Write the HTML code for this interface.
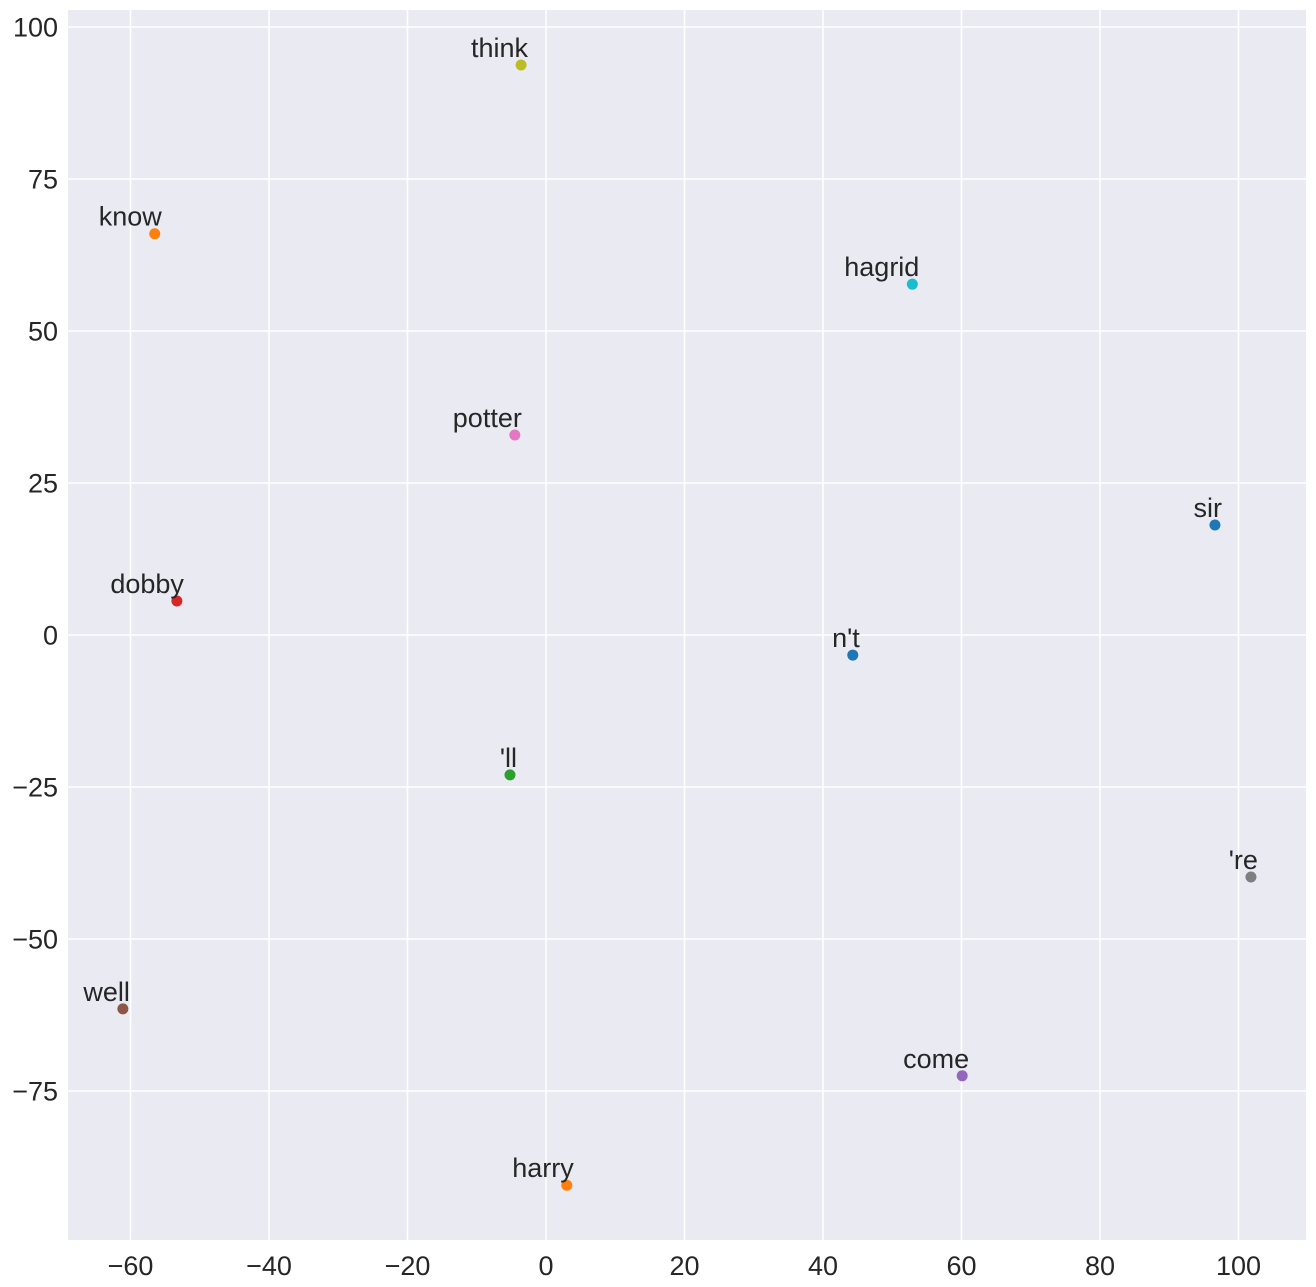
<!DOCTYPE html>
<html><head><meta charset="utf-8"><style>
body{margin:0;background:#fff}
svg{display:block;font-family:"Liberation Sans",Arial,sans-serif}
</style></head><body>
<svg id="chart" width="1316" height="1287" xmlns="http://www.w3.org/2000/svg">
<rect x="68" y="10" width="1238" height="1230" fill="#eaeaf2"/>
<g id="grid"></g>
<g id="ticks"></g>
<g id="points"></g>
</svg>
<script>
const words=["think","know","hagrid","potter","sir","dobby","n't","'ll","'re","well","come","harry"];
const xs=[-3.6,-56.5,52.9,-4.5,96.6,-53.3,44.3,-5.2,101.8,-61.1,60.1,3.0];
const ys=[93.75,66.0,57.7,32.9,18.1,5.6,-3.3,-23.0,-39.8,-61.5,-72.5,-90.5];
const colors=["#bcbd22","#ff7f0e","#17becf","#e377c2","#1f77b4","#d62728","#1f77b4","#2ca02c","#7f7f7f","#8c564b","#9467bd","#ff7f0e"];
const xTicks=[-60,-40,-20,0,20,40,60,80,100];
const yTicks=[100,75,50,25,0,-25,-50,-75];
const L=68,R=1306,T=10,B=1240;
function sx(v){return 546+v*6.925;}
function sy(v){return 635-v*6.08;}
const NS="http://www.w3.org/2000/svg";
function mk(tag,attrs,parent){const e=document.createElementNS(NS,tag);for(const k in attrs)e.setAttribute(k,attrs[k]);parent.appendChild(e);return e;}
const grid=document.getElementById('grid'),ticks=document.getElementById('ticks'),pts=document.getElementById('points');
xTicks.forEach(t=>{
 const l=mk('line',{x1:sx(t),x2:sx(t),y1:T,y2:B,stroke:"#fff","stroke-width":1.5},grid);
 
 
 const tx=mk('text',{x:sx(t),y:1275,"text-anchor":"middle","font-size":27,fill:"#262626"},ticks);
 tx.textContent=t<0?"\u2212"+(-t):String(t);
 
 
});
yTicks.forEach(t=>{
 const l=mk('line',{x1:L,x2:R,y1:sy(t),y2:sy(t),stroke:"#fff","stroke-width":1.5},grid);
 
 
 const tx=mk('text',{x:58,y:sy(t)+9.5,"text-anchor":"end","font-size":27,fill:"#262626"},ticks);
 tx.textContent=t<0?"\u2212"+(-t):String(t);
 
 
});
words.forEach((w,i)=>{
 const c=mk('circle',{cx:sx(xs[i]),cy:sy(ys[i]),r:5.5,fill:colors[i]},pts);
 
 
 const tx=mk('text',{x:sx(xs[i])+7,y:sy(ys[i])-8,"text-anchor":"end","font-size":27,fill:"#262626"},pts);
 tx.textContent=w;
 
 
});
</script>
</body></html>
